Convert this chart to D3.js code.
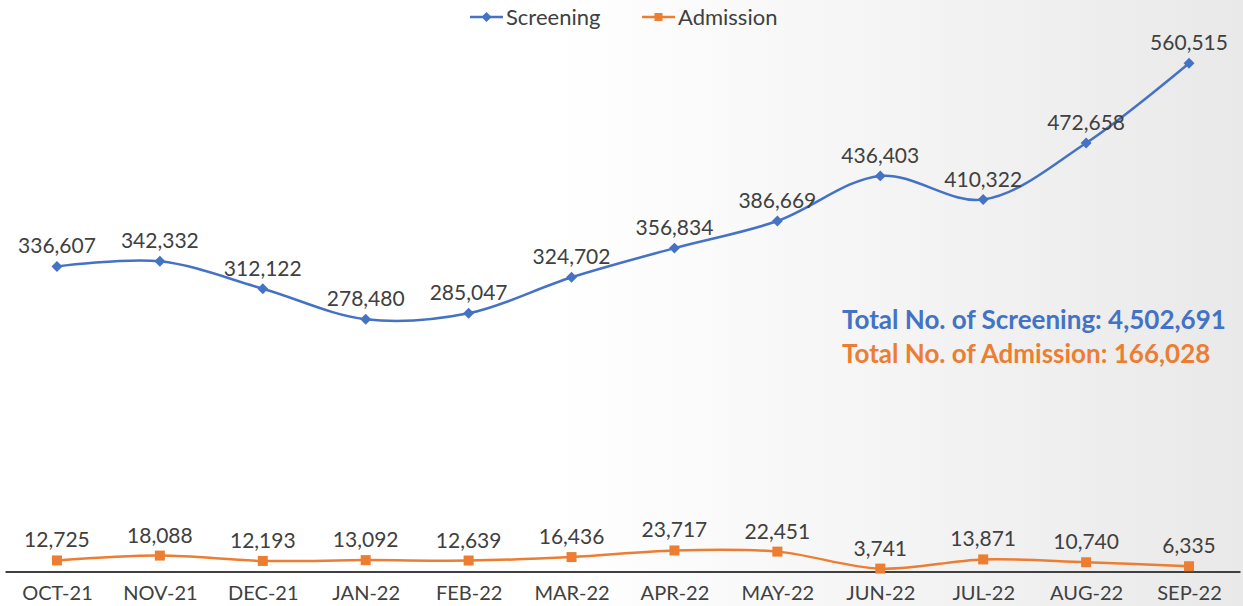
<!DOCTYPE html>
<html>
<head>
<meta charset="utf-8">
<script src="https://cdn.jsdelivr.net/npm/d3@7"></script>
<style>
  html, body { margin: 0; padding: 0; background: #fff; }
  svg { display: block; font-family: Lato, "Open Sans", sans-serif; }
</style>
</head>
<body>
<div id="chart"></div>
<script>
var width = 1243;
var height = 606;

// data
var months = ["OCT-21", "NOV-21", "DEC-21", "JAN-22", "FEB-22", "MAR-22",
              "APR-22", "MAY-22", "JUN-22", "JUL-22", "AUG-22", "SEP-22"];
var screening = [336607, 342332, 312122, 278480, 285047, 324702,
                 356834, 386669, 436403, 410322, 472658, 560515];
var admission = [12725, 18088, 12193, 13092, 12639, 16436,
                 23717, 22451, 3741, 13871, 10740, 6335];
var seriesNames = ["Screening", "Admission"];
var totalLines = ["Total No. of Screening: 4,502,691", "Total No. of Admission: 166,028"];

var blue = "#4472C4";
var orange = "#ED7D31";
var textGrey = "#404040";

var svg = d3.select("#chart")
    .append("svg")
    .attr("width", width)
    .attr("height", height)

/*
    background: white fading to light grey on the right
*/
var grad = svg.append("defs").append("linearGradient")
    .attr("id", "bg")
    .attr("x1", "0%").attr("x2", "100%")
    .attr("y1", "0%").attr("y2", "0%")
grad.append("stop").attr("offset", "45%").attr("stop-color", "#ffffff")
grad.append("stop").attr("offset", "100%").attr("stop-color", "#e9e9e9")

svg.append("rect")
    .attr("width", width)
    .attr("height", height)
    .attr("fill", "url(#bg)")

var x = d3.scalePoint()
    .domain(months)
    .range([5.5, 1240.5])
    .padding(0.5)

var y = d3.scaleLinear()
    .domain([0, 600000])
    .range([572, 27.4])

var line = d3.line()
    .x(function (d, i) { return x(months[i]) })
    .y(function (d) { return y(d) })
    .curve(d3.curveCatmullRom.alpha(0.5))

/*
    x axis: just the line and month labels
*/
var xAxis = svg.append("g")
    .attr("transform", "translate(0," + 572 + ")")
    .call(d3.axisBottom(x).tickSize(0).tickPadding(0))

xAxis.select(".domain")
    .attr("d", "M5.5,0H1240.5")
    .attr("stroke", textGrey)
    .attr("stroke-width", 2)

xAxis.selectAll("text")
    .attr("y", 28)
    .attr("dy", 0)
    .attr("fill", textGrey)
    .style("font-family", "Lato, 'Open Sans', sans-serif")
    .style("font-size", "20px")

/*
    draw one series: line, markers, value labels
    diamond = square turned 45 degrees
*/
function drawSeries(values, color, diamond) {
    var g = svg.append("g")

    g.append("path")
        .datum(values)
        .attr("d", line)
        .attr("fill", "none")
        .attr("stroke", color)
        .attr("stroke-width", 2.5)

    g.selectAll(".marker")
        .data(values)
        .enter().append("path")
        .attr("class", "marker")
        .attr("d", d3.symbol().type(d3.symbolSquare).size(diamond ? 60 : 100))
        .attr("transform", function (d, i) {
            return "translate(" + x(months[i]) + "," + y(d) + ")" + (diamond ? " rotate(45)" : "")
        })
        .attr("fill", color)

    g.selectAll(".val")
        .data(values)
        .enter().append("text")
        .attr("class", "val")
        .attr("x", function (d, i) { return x(months[i]) })
        .attr("y", function (d) { return y(d) - 13 })
        .attr("text-anchor", "middle")
        .attr("fill", textGrey)
        .style("font-size", "21px")
        .text(function (d) { return d3.format(",")(d) })
}

drawSeries(screening, blue, true)
drawSeries(admission, orange, false)

/*
    legend
*/
var legendItems = [
    { name: seriesNames[0], color: blue, x: 470, diamond: true },
    { name: seriesNames[1], color: orange, x: 642, diamond: false }
]
var legend = svg.selectAll(".legend")
    .data(legendItems)
    .enter().append("g")
    .attr("class", "legend")
    .attr("transform", function (d) { return "translate(" + d.x + ",17)" })

legend.append("line")
    .attr("x1", 0).attr("x2", 33)
    .attr("stroke", function (d) { return d.color })
    .attr("stroke-width", 2.5)

legend.append("path")
    .attr("d", function (d) { return d3.symbol().type(d3.symbolSquare).size(d.diamond ? 50 : 64)() })
    .attr("transform", function (d) { return "translate(16.5,0)" + (d.diamond ? " rotate(45)" : "") })
    .attr("fill", function (d) { return d.color })

legend.append("text")
    .attr("x", 36)
    .attr("y", 8)
    .attr("fill", textGrey)
    .style("font-size", "22px")
    .text(function (d) { return d.name })

/*
    totals
*/
svg.selectAll(".total")
    .data(totalLines)
    .enter().append("text")
    .attr("class", "total")
    .attr("x", 842)
    .attr("y", function (d, i) { return 329 + i * 34 })
    .attr("fill", function (d, i) { return i === 0 ? blue : orange })
    .style("font-size", "26px")
    .style("font-weight", "bold")
    .text(function (d) { return d })
</script>
</body>
</html>
